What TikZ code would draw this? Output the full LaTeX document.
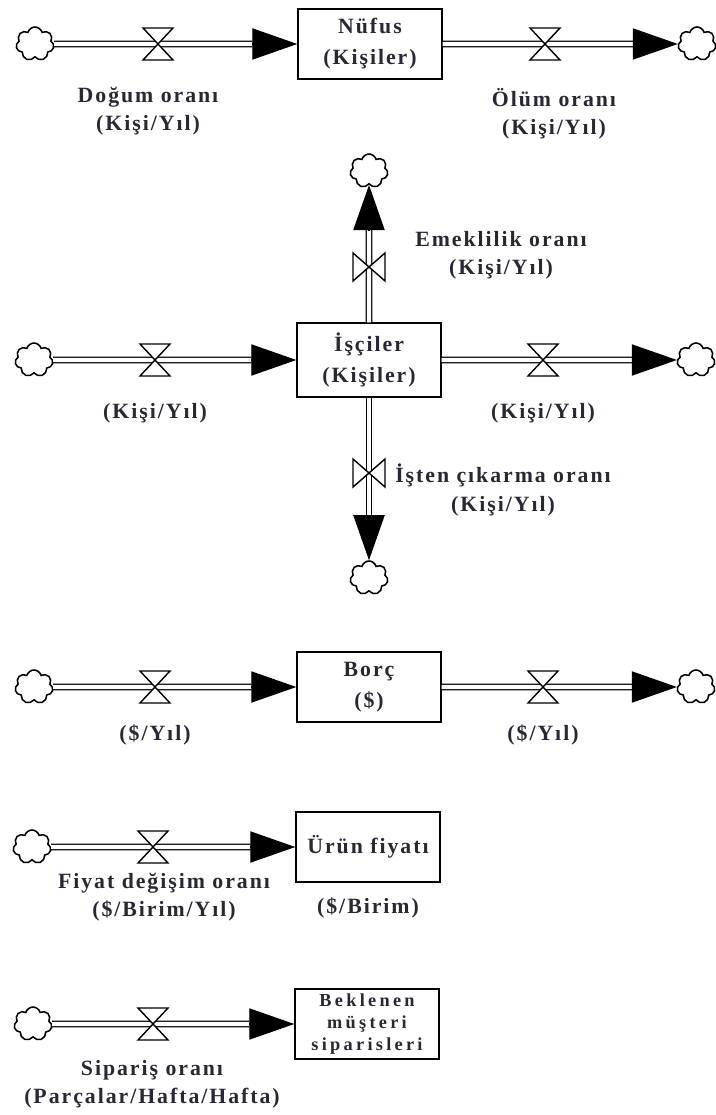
\documentclass[tikz,border=0pt]{standalone}
\usepackage{fontspec}
\setmainfont{Liberation Serif}[LetterSpace=9]
\usetikzlibrary{shapes.symbols,arrows.meta}
\definecolor{inkcol}{RGB}{40,40,52}
\tikzset{
  stock/.style={draw, line width=1pt, minimum width=3.6cm, minimum height=1.75cm,
    inner sep=1pt, align=center, text=inkcol, font=\bfseries\fontsize{15.5}{19}\selectfont},
  sink/.style={cloud, cloud puffs=7, draw, line width=1.1pt, aspect=1.05,
    minimum width=0.95cm, minimum height=0.85cm, inner sep=0pt},
  pipe/.style={double, double distance=3pt, line width=0.9pt},
  flowtip/.style={-{Triangle[length=1.125cm,width=0.78cm]}, line width=0.9pt},
  lbl/.style={align=center, text=inkcol, font=\bfseries\fontsize{15.5}{20}\selectfont},
  valveh/.pic={\draw[fill=white, line width=1pt] (-15,-16) -- (15,-16) -- (0,0) -- cycle
      (-15,16) -- (15,16) -- (0,0) -- cycle;},
  valvev/.pic={\draw[fill=white, line width=1pt] (-16,-14) -- (-16,14) -- (0,0) -- cycle
      (16,-14) -- (16,14) -- (0,0) -- cycle;}
}
\begin{document}
\begin{tikzpicture}[x=0.025cm,y=-0.025cm]
  \useasboundingbox (0,0) rectangle (715,1115);
  % Nufus
  \node[stock] (nufus) at (370,44) {Nüfus\\[3pt](Kişiler)};
  \node[sink] (s1a) at (35,44) {};
  \node[sink] (s1b) at (697,44) {};
  \coordinate (t1a) at ([xshift=-1.125cm]nufus.west);
  \coordinate (t1b) at ([xshift=-1.125cm]s1b.west);
  \draw[pipe] (s1a.east) -- (t1a);
  \draw[flowtip] (t1a) -- (nufus.west);
  \draw[pipe] (nufus.east) -- (t1b);
  \draw[flowtip] (t1b) -- (s1b.west);
  \pic at (158,44) {valveh};
  \pic at (545,44) {valveh};
  \node[lbl] (l1a) at (148,111) {Doğum oranı\\(Kişi/Yıl)};
  \node[lbl] (l1b) at (554,114) {Ölüm oranı\\(Kişi/Yıl)};
  % Isciler
  \node[stock, minimum height=1.85cm] (isci) at (369,360) {İşçiler\\[3pt](Kişiler)};
  \node[sink] (s2a) at (34,360) {};
  \node[sink] (s2b) at (696,360) {};
  \node[sink] (s2c) at (369,171) {};
  \node[sink] (s2d) at (369,578) {};
  \coordinate (t2a) at ([xshift=-1.125cm]isci.west);
  \coordinate (t2b) at ([xshift=-1.125cm]s2b.west);
  \coordinate (t2c) at ([yshift=-1.125cm]s2c.south);
  \coordinate (t2d) at ([yshift=1.125cm]s2d.north);
  \draw[pipe] (s2a.east) -- (t2a);
  \draw[flowtip] (t2a) -- (isci.west);
  \draw[pipe] (isci.east) -- (t2b);
  \draw[flowtip] (t2b) -- (s2b.west);
  \draw[pipe] (isci.north) -- (t2c);
  \draw[flowtip] (t2c) -- (s2c.south);
  \draw[pipe] (isci.south) -- (t2d);
  \draw[flowtip] (t2d) -- (s2d.north);
  \pic at (155,360) {valveh};
  \pic at (543,360) {valveh};
  \pic at (369,267) {valvev};
  \pic at (369,473) {valvev};
  \node[lbl] (l2c) at (501,255) {Emeklilik oranı\\(Kişi/Yıl)};
  \node[lbl] (l2a) at (155,413) {(Kişi/Yıl)};
  \node[lbl] (l2b) at (543,413) {(Kişi/Yıl)};
  \node[lbl] (l2d) at (503,490) {İşten çıkarma oranı\\(Kişi/Yıl)};
  % Borc
  \node[stock] (borc) at (369,687) {Borç\\[3pt](\$)};
  \node[sink] (s3a) at (34,687) {};
  \node[sink] (s3b) at (696,687) {};
  \coordinate (t3a) at ([xshift=-1.125cm]borc.west);
  \coordinate (t3b) at ([xshift=-1.125cm]s3b.west);
  \draw[pipe] (s3a.east) -- (t3a);
  \draw[flowtip] (t3a) -- (borc.west);
  \draw[pipe] (borc.east) -- (t3b);
  \draw[flowtip] (t3b) -- (s3b.west);
  \pic at (155,687) {valveh};
  \pic at (543,687) {valveh};
  \node[lbl] (l3a) at (155,735) {(\$/Yıl)};
  \node[lbl] (l3b) at (543,735) {(\$/Yıl)};
  % Urun fiyati
  \node[stock] (fiyat) at (368,847) {Ürün fiyatı};
  \node[sink] (s4a) at (32,847) {};
  \coordinate (t4a) at ([xshift=-1.125cm]fiyat.west);
  \draw[pipe] (s4a.east) -- (t4a);
  \draw[flowtip] (t4a) -- (fiyat.west);
  \pic at (153,847) {valveh};
  \node[lbl] (l4a) at (164,897) {Fiyat değişim oranı\\(\$/Birim/Yıl)};
  \node[lbl] (l4b) at (368,908) {(\$/Birim)};
  % Beklenen siparisler
  \node[stock, font=\bfseries\addfontfeature{LetterSpace=18}\fontsize{13}{15.5}\selectfont]
    (siparis) at (367,1024) {Beklenen\\müşteri\\siparisleri};
  \node[sink] (s5a) at (33,1024) {};
  \coordinate (t5a) at ([xshift=-1.125cm]siparis.west);
  \draw[pipe] (s5a.east) -- (t5a);
  \draw[flowtip] (t5a) -- (siparis.west);
  \pic at (153,1024) {valveh};
  \node[lbl] (l5a) at (152,1084) {Sipariş oranı\\(Parçalar/Hafta/Hafta)};
\end{tikzpicture}
\end{document}
